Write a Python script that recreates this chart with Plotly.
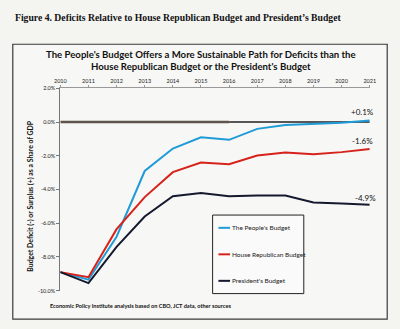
import plotly.graph_objects as go

# Fiscal years and deficit (-) / surplus (+) as a share of GDP, percent
years = [2010, 2011, 2012, 2013, 2014, 2015, 2016, 2017, 2018, 2019, 2020, 2021]
peoples_budget = [-8.9, -9.35, -6.8, -2.9, -1.57, -0.9, -1.05, -0.4, -0.17, -0.1, -0.04, 0.1]
house_republican = [-8.9, -9.2, -6.35, -4.45, -2.97, -2.4, -2.5, -1.98, -1.8, -1.9, -1.78, -1.6]
presidents_budget = [-8.9, -9.55, -7.4, -5.6, -4.4, -4.2, -4.4, -4.35, -4.35, -4.77, -4.83, -4.9]

series_names = ["The People's Budget", "House Republican Budget", "President's Budget"]
series_values = [peoples_budget, house_republican, presidents_budget]
series_colors = ["#1f9bd7", "#d7221b", "#15192e"]

y_ticks = [2, 0, -2, -4, -6, -8, -10]
y_tick_text = ["2.0%", "0.0%", "-2.0%", "-4.0%", "-6.0%", "-8.0%", "-10.0%"]

BG = "#f4f4f1"
SANS = "Lato, 'Open Sans', sans-serif"

fig = go.Figure()

# Balanced-budget reference line
fig.add_trace(go.Scatter(x=[2010, 2016], y=[0, 0], mode="lines",
                         line=dict(color="#5e544c", width=2.5),
                         showlegend=False, hoverinfo="skip"))
fig.add_trace(go.Scatter(x=[2016, 2021], y=[0, 0], mode="lines",
                         line=dict(color="#222222", width=1.5),
                         showlegend=False, hoverinfo="skip"))

for name, vals, col in zip(series_names, series_values, series_colors):
    fig.add_trace(go.Scatter(x=years, y=vals, mode="lines", name=name,
                             line=dict(color=col, width=2), showlegend=False))

# End-of-period value labels
label_shift = [(-7, 8), (-7, 8), (-4, 7)]
for vals, (dx, dy) in zip(series_values, label_shift):
    fig.add_annotation(x=years[-1], y=vals[-1], xref="x", yref="y",
                       text=f"{vals[-1]:+.1f}%" if vals[-1] > 0 else f"{vals[-1]:.1f}%",
                       showarrow=False, xshift=dx, yshift=dy,
                       font=dict(family=SANS, size=8, color="#111111"))

W, H = 400, 329
def px(x):
    return x / W
def py(y):
    return 1 - y / H

shapes = []
# Chart frame
shapes.append(dict(type="rect", xref="paper", yref="paper",
                   x0=px(7), x1=px(393), y0=py(322), y1=py(42),
                   line=dict(color="#3a3a3a", width=1.2), fillcolor="#f7f7f5", layer="below"))
# Legend box with line samples
shapes.append(dict(type="rect", xref="paper", yref="paper",
                   x0=px(213), x1=px(307), y0=py(296), y1=py(216),
                   line=dict(color="#222222", width=1), fillcolor="#fafafa", layer="below"))
legend_rows = [229, 256, 283]
for row, name, col in zip(legend_rows, series_names, series_colors):
    shapes.append(dict(type="line", xref="paper", yref="paper",
                       x0=px(219), x1=px(231), y0=py(row), y1=py(row),
                       line=dict(color=col, width=2)))
    fig.add_annotation(x=px(231), y=py(row), xref="paper", yref="paper",
                       text=name, showarrow=False, xanchor="left", yanchor="middle",
                       font=dict(family=SANS, size=6.5, color="#222222"))

# Figure caption
fig.add_annotation(x=px(7), y=py(15), xref="paper", yref="paper",
                   text="<b>Figure 4. Deficits Relative to House Republican Budget and President\u2019s Budget</b>",
                   showarrow=False, xanchor="left", yanchor="middle",
                   font=dict(family="'Liberation Serif', 'Times New Roman', serif", size=9.7, color="#111111"))
# Chart title
fig.add_annotation(x=px(201), y=py(59), xref="paper", yref="paper",
                   text="<b>The People's Budget Offers a More Sustainable Path for Deficits than the<br>House Republican Budget or the President's Budget</b>",
                   showarrow=False, xanchor="center", yanchor="middle", align="center",
                   font=dict(family=SANS, size=9.6, color="#111111"))
# Y axis title
fig.add_annotation(x=px(25), y=py(197), xref="paper", yref="paper",
                   text="<b>Budget Deficit (-) or Surplus (+) as a Share of GDP</b>",
                   showarrow=False, textangle=-90, xanchor="center", yanchor="middle",
                   font=dict(family=SANS, size=6.9, color="#111111"))
# Source note
fig.add_annotation(x=px(43), y=py(308), xref="paper", yref="paper",
                   text="<b>Economic Policy Institute analysis based on CBO, JCT data, other sources</b>",
                   showarrow=False, xanchor="left", yanchor="middle",
                   font=dict(family=SANS, size=5.6, color="#111111"))

fig.update_layout(
    width=W, height=H,
    margin=dict(l=0, r=0, t=0, b=0),
    paper_bgcolor=BG, plot_bgcolor="rgba(0,0,0,0)",
    shapes=shapes,
    xaxis=dict(domain=[px(56), px(375)], range=[2010, 2021], side="top",
               tickmode="array", tickvals=years, ticktext=[str(y) for y in years],
               showline=True, linecolor="#999999", linewidth=1,
               ticks="outside", ticklen=2, tickcolor="#999999",
               showgrid=False, zeroline=False,
               tickfont=dict(family=SANS, size=5.5, color="#222222")),
    yaxis=dict(domain=[py(293), py(87)], range=[-10, 2],
               tickmode="array", tickvals=y_ticks, ticktext=y_tick_text,
               showline=True, linecolor="#777777", linewidth=1,
               ticks="outside", ticklen=3, tickcolor="#777777",
               showgrid=False, zeroline=False,
               tickfont=dict(family=SANS, size=5.5, color="#222222")),
    showlegend=False,
)

fig.write_html("out.html")
